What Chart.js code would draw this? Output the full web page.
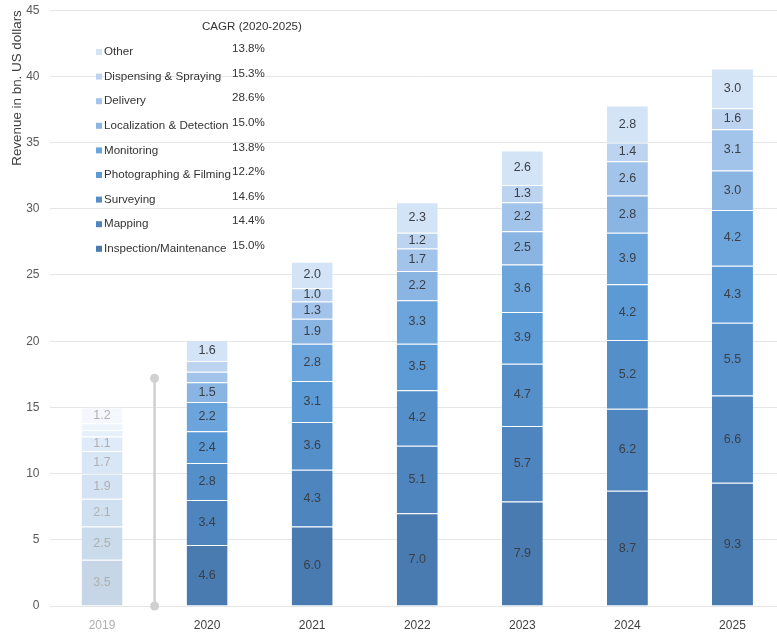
<!DOCTYPE html>
<html lang="en">
<head>
  <meta charset="UTF-8">
  <title>Drone services revenue</title>
  <script src="https://cdn.jsdelivr.net/npm/chart.js"></script>
  <style>
    html, body {
      margin: 0;
      padding: 0;
      background: #ffffff;
      overflow: hidden;
    }
    #chartContainer {
      position: relative;
      width: 777px;
      height: 632px;
      overflow: hidden;
    }
    /* plot runs off the right edge, as in the original slide */
    #revenueChart {
      position: absolute;
      left: 0;
      top: -7px;
    }
  </style>
</head>
<body>
  <div id="chartContainer">
    <canvas id="revenueChart" width="785" height="640"></canvas>
  </div>
  <script>
    const years = ["2019", "2020", "2021", "2022", "2023", "2024", "2025"];

    // segments from bottom to top of each bar
    const inspection    = [3.5, 4.6, 6.0, 7.0, 7.9, 8.7, 9.3];
    const mapping       = [2.5, 3.4, 4.3, 5.1, 5.7, 6.2, 6.6];
    const surveying     = [2.1, 2.8, 3.6, 4.2, 4.7, 5.2, 5.5];
    const photographing = [1.9, 2.4, 3.1, 3.5, 3.9, 4.2, 4.3];
    const monitoring    = [1.7, 2.2, 2.8, 3.3, 3.6, 3.9, 4.2];
    const localization  = [1.1, 1.5, 1.9, 2.2, 2.5, 2.8, 3.0];
    const delivery      = [0.5, 0.8, 1.3, 1.7, 2.2, 2.6, 3.1];
    const dispensing    = [0.5, 0.8, 1.0, 1.2, 1.3, 1.4, 1.6];
    const other         = [1.2, 1.6, 2.0, 2.3, 2.6, 2.8, 3.0];

    const cagr = ["15.0%", "14.4%", "14.6%", "12.2%", "13.8%", "15.0%", "28.6%", "15.3%", "13.8%"];

    const yTicks = [0, 5, 10, 15, 20, 25, 30, 35, 40, 45];

    const series = [
      { label: "Inspection/Maintenance",   data: inspection,    color: "#4a7bb0", faded: "#c6d6e7" },
      { label: "Mapping",                  data: mapping,       color: "#4e85bf", faded: "#cadbec" },
      { label: "Surveying",                data: surveying,     color: "#548fca", faded: "#cfe0f0" },
      { label: "Photographing & Filming",  data: photographing, color: "#5b9ad5", faded: "#d3e3f3" },
      { label: "Monitoring",               data: monitoring,    color: "#6ca5dc", faded: "#d8e7f6" },
      { label: "Localization & Detection", data: localization,  color: "#8ab5e3", faded: "#dfebf8" },
      { label: "Delivery",                 data: delivery,      color: "#a3c4ea", faded: "#e6f0fa" },
      { label: "Dispensing & Spraying",    data: dispensing,    color: "#bcd4f0", faded: "#edf4fc" },
      { label: "Other",                    data: other,         color: "#d4e4f7", faded: "#f4f8fe" }
    ];

    const fontFamily = "'Liberation Sans', Arial, sans-serif";
    const dividerTop = 17.2;
    const canvasShift = 7; // canvas sits 7px above the page top

    // value labels centred in each segment
    const segmentLabels = {
      id: "segmentLabels",
      afterDatasetsDraw(chart) {
        const ctx = chart.ctx;
        ctx.save();
        ctx.font = "12.5px " + fontFamily;
        ctx.textAlign = "center";
        ctx.textBaseline = "middle";
        chart.data.datasets.forEach((ds, i) => {
          const meta = chart.getDatasetMeta(i);
          meta.data.forEach((bar, j) => {
            const v = ds.data[j];
            if (v < 0.95) return;
            ctx.fillStyle = j === 0 ? "#b0b0b0" : "#3a3f47";
            ctx.fillText(v.toFixed(1), bar.x, (bar.y + bar.base) / 2);
          });
        });
        ctx.restore();
      }
    };

    // grey divider between the 2019 bar and the forecast years
    const divider = {
      id: "divider",
      beforeDatasetsDraw(chart) {
        const xs = chart.scales.x, ys = chart.scales.y;
        const x = (xs.getPixelForValue(0) + xs.getPixelForValue(1)) / 2;
        const y0 = ys.getPixelForValue(0);
        const y1 = ys.getPixelForValue(dividerTop);
        const ctx = chart.ctx;
        ctx.save();
        ctx.strokeStyle = "#d0d0d0";
        ctx.fillStyle = "#d0d0d0";
        ctx.lineWidth = 2.5;
        ctx.beginPath();
        ctx.moveTo(x, y0);
        ctx.lineTo(x, y1);
        ctx.stroke();
        [y0, y1].forEach(y => {
          ctx.beginPath();
          ctx.arc(x, y, 4.5, 0, Math.PI * 2);
          ctx.fill();
        });
        ctx.restore();
      }
    };

    // legend with CAGR column, top entry = top segment
    const cagrLegend = {
      id: "cagrLegend",
      afterDraw(chart) {
        const ctx = chart.ctx;
        ctx.save();
        ctx.translate(0, canvasShift);
        ctx.font = "11.6px " + fontFamily;
        ctx.textBaseline = "middle";
        ctx.textAlign = "left";
        ctx.fillStyle = "#333333";
        ctx.fillText("CAGR (2020-2025)", 202, 27);
        const rowStart = 52, rowStep = 24.6;
        for (let k = 0; k < series.length; k++) {
          const i = series.length - 1 - k;
          const y = rowStart + k * rowStep;
          ctx.fillStyle = series[i].color;
          ctx.fillRect(96, y - 3, 6, 6);
          ctx.fillStyle = "#333333";
          ctx.fillText(series[i].label, 104, y);
          ctx.fillText(cagr[i], 232, y - 3);
        }
        ctx.restore();
      }
    };

    new Chart(document.getElementById("revenueChart"), {
      type: "bar",
      data: {
        labels: years,
        datasets: series.map(s => ({
          label: s.label,
          data: s.data,
          backgroundColor: s.data.map((_, j) => j === 0 ? s.faded : s.color),
          borderColor: "rgba(255,255,255,0.45)",
          borderWidth: { top: 1, left: 0, right: 0, bottom: 0 },
          borderSkipped: false,
          barPercentage: 0.78,
          categoryPercentage: 0.5
        }))
      },
      options: {
        responsive: false,
        animation: false,
        devicePixelRatio: 1,
        layout: { padding: { top: 0, right: 0, left: 9, bottom: 0 } },
        plugins: {
          legend: { display: false },
          tooltip: { enabled: false }
        },
        scales: {
          x: {
            stacked: true,
            grid: { display: false },
            border: { display: false },
            ticks: {
              font: { size: 12, family: fontFamily },
              color: (c) => c.index === 0 ? "#b0b0b0" : "#404040",
              padding: 4
            },
            afterFit(scale) { scale.height = 27; }
          },
          y: {
            stacked: true,
            min: 0,
            max: 45,
            afterBuildTicks(scale) { scale.ticks = yTicks.map(v => ({ value: v })); },
            grid: { color: "#e6e6e6", drawTicks: false },
            border: { display: false },
            ticks: {
              font: { size: 12, family: fontFamily },
              color: "#595959",
              padding: 10
            },
            title: {
              display: true,
              text: "Revenue in bn. US dollars",
              align: "end",
              color: "#404040",
              font: { size: 13.4, family: fontFamily },
              padding: { top: 0, bottom: 4 }
            },
            afterFit(scale) { scale.width = 40.5; }
          }
        }
      },
      plugins: [divider, segmentLabels, cagrLegend]
    });
  </script>
</body>
</html>
